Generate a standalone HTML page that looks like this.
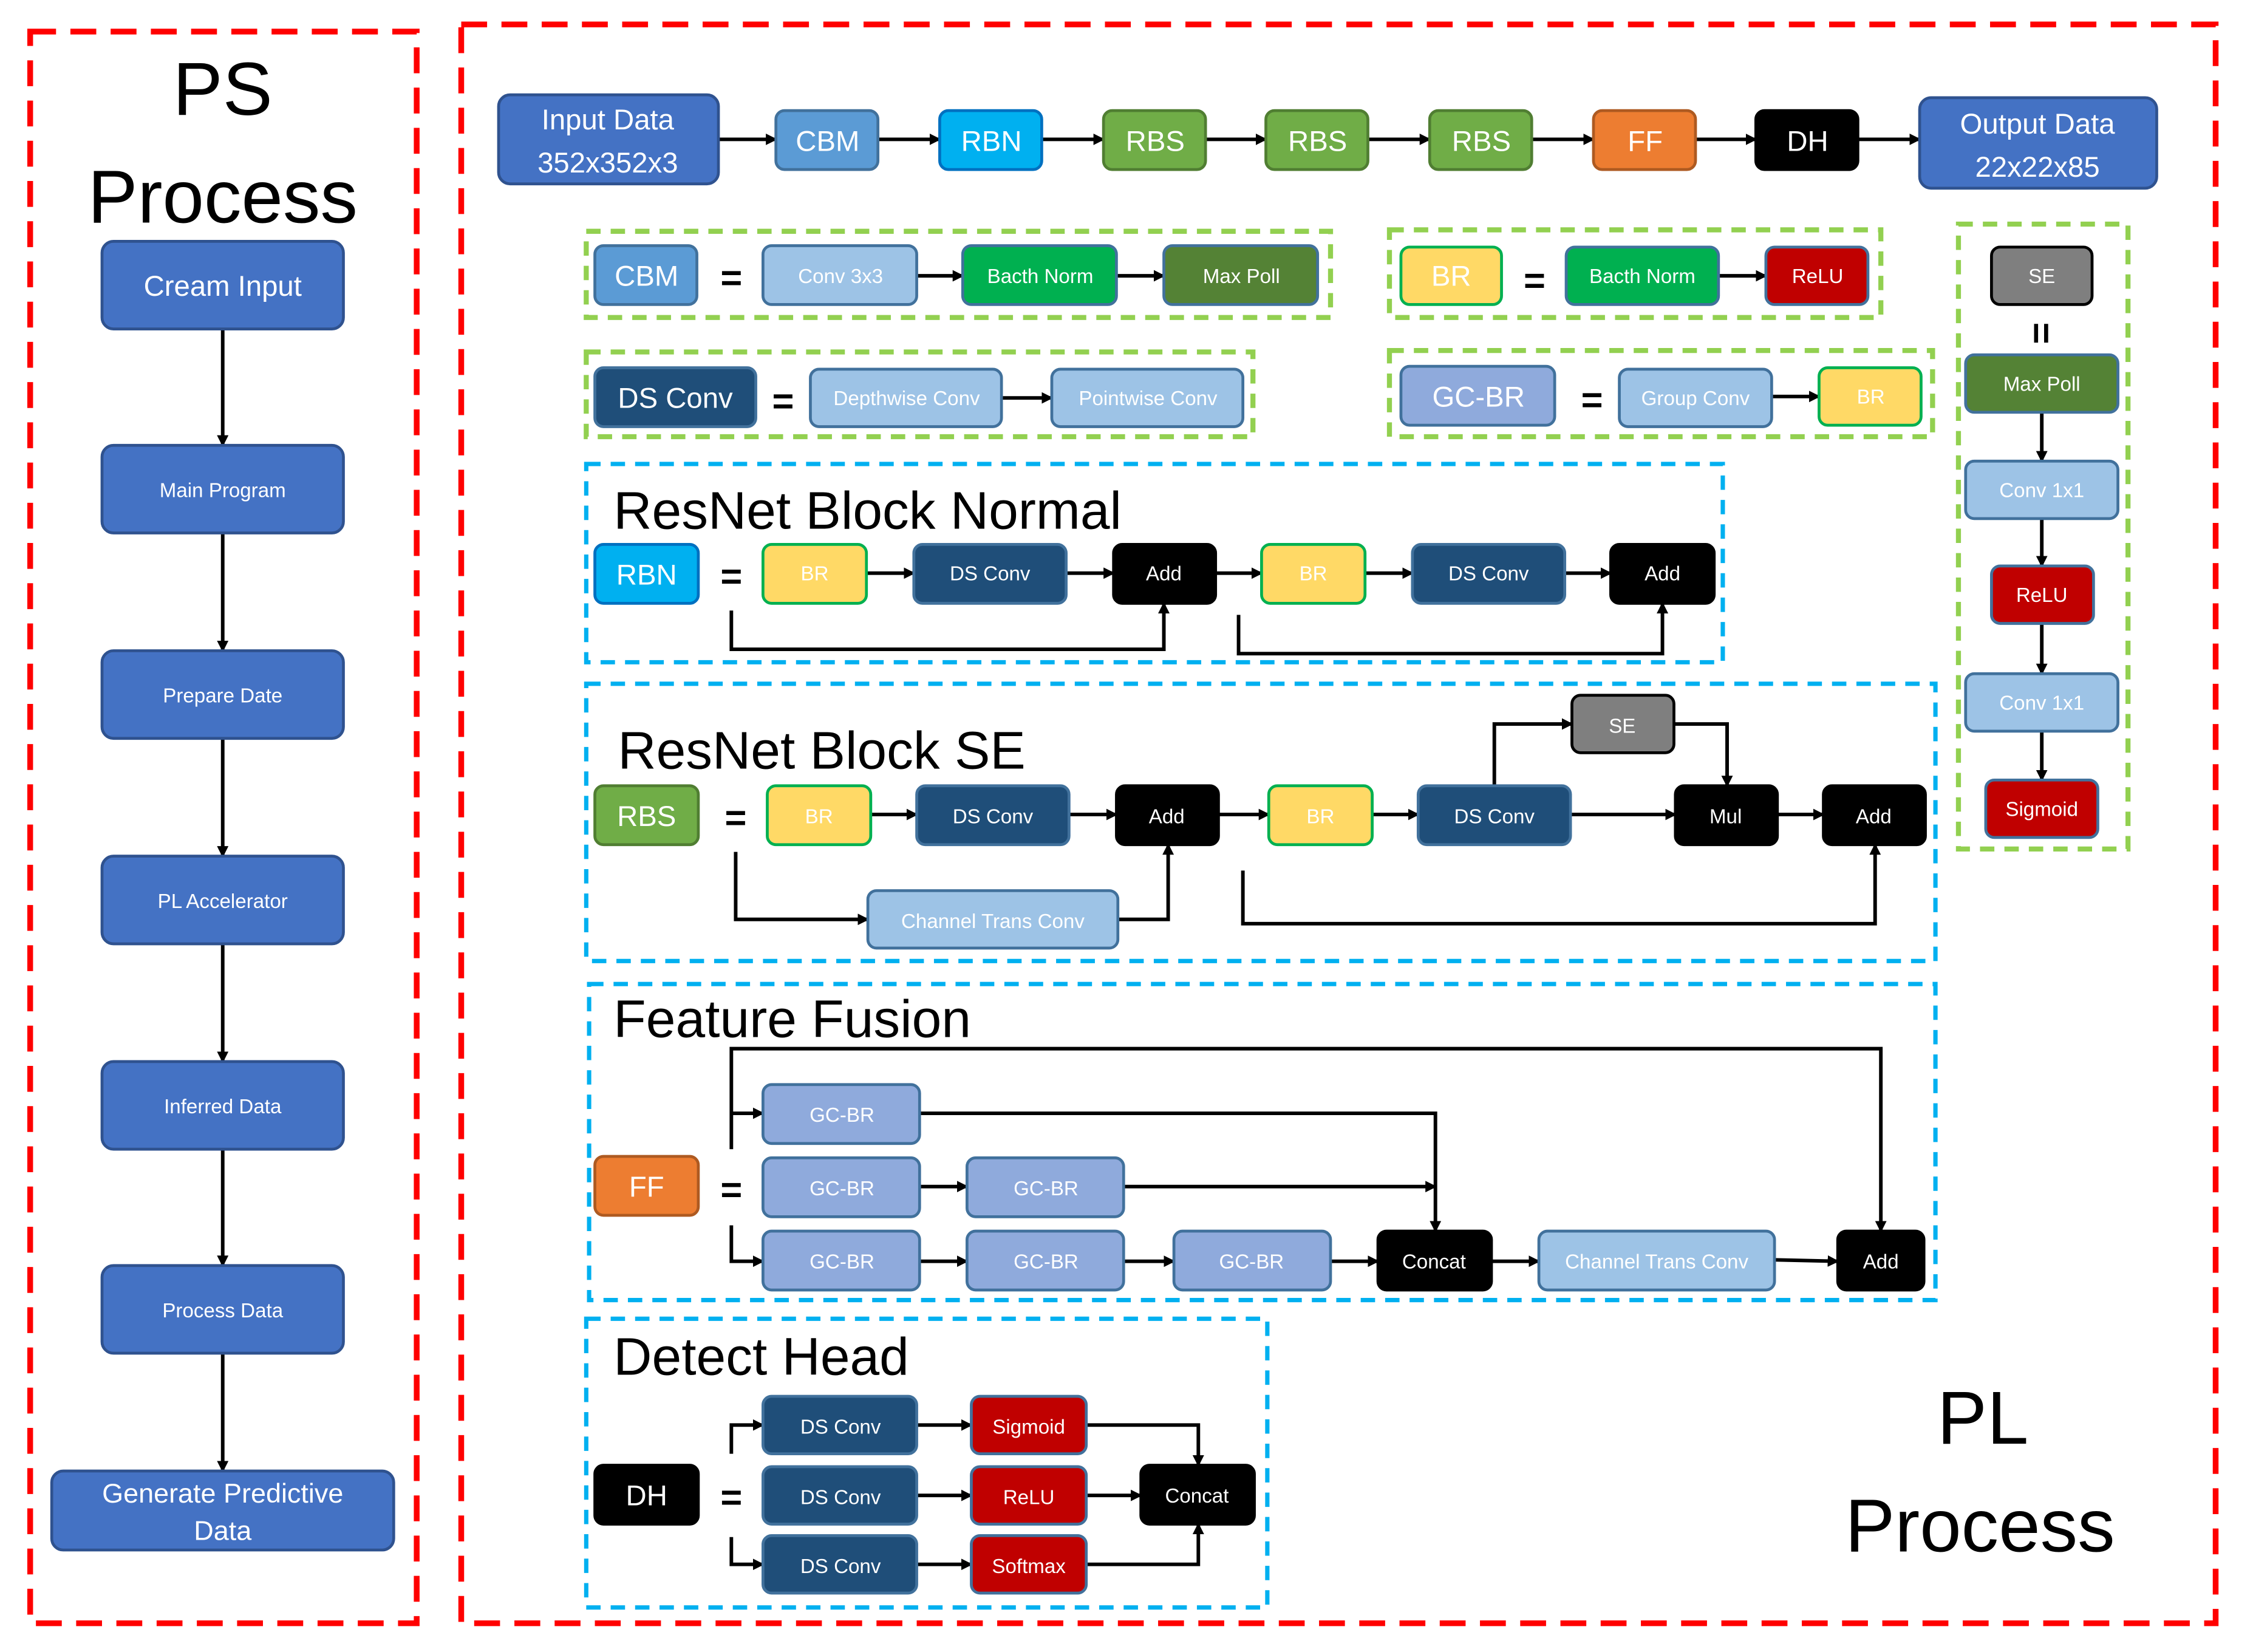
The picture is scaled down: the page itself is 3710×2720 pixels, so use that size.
<!DOCTYPE html>
<html><head><meta charset="utf-8"><style>
html,body{margin:0;padding:0;background:#fff;}
svg{display:block;}
text{font-family:"Liberation Sans",sans-serif;}
</style></head><body>
<svg width="3710" height="2720" viewBox="0 0 1568 1150" preserveAspectRatio="none" xmlns="http://www.w3.org/2000/svg">
<defs>
<marker id="a" markerWidth="8" markerHeight="8" refX="7" refY="4" orient="auto" markerUnits="userSpaceOnUse"><path d="M0,0 L8,4 L0,8 Z" fill="#000"/></marker>
</defs>
<g fill="none" stroke="#f00" stroke-width="4" stroke-dasharray="18,10">
<rect x="21" y="22" width="269" height="1108"/>
<rect x="321" y="17" width="1221" height="1113"/>
</g>
<g fill="none" stroke="#92D050" stroke-width="3.5" stroke-dasharray="10,7">
<rect x="408" y="161" width="518" height="60"/>
<rect x="967" y="160" width="342" height="61"/>
<rect x="408" y="245" width="464" height="59"/>
<rect x="967" y="244" width="378" height="60"/>
<rect x="1363" y="156" width="118" height="435"/>
</g>
<g fill="none" stroke="#00B0F0" stroke-width="3" stroke-dasharray="10,7">
<rect x="408" y="323" width="791" height="138"/>
<rect x="408" y="476" width="939" height="193"/>
<rect x="410" y="685" width="937" height="220"/>
<rect x="408" y="918" width="474" height="201"/>
</g>
<g fill="#000" text-anchor="middle">
<text x="155" y="80" font-size="52">PS</text>
<text x="155" y="155" font-size="52">Process</text>
<text x="1380" y="1005" font-size="52">PL</text>
<text x="1378" y="1080" font-size="52">Process</text>
</g>
<g fill="#000" font-size="37">
<text x="427" y="368">ResNet Block Normal</text>
<text x="430" y="535">ResNet Block SE</text>
<text x="427" y="722">Feature Fusion</text>
<text x="427" y="957">Detect Head</text>
</g>
<g stroke="#000" stroke-width="2.5" fill="none" marker-end="url(#a)">
<line x1="155" y1="229" x2="155" y2="310"/>
<line x1="155" y1="371" x2="155" y2="453"/>
<line x1="155" y1="514" x2="155" y2="596"/>
<line x1="155" y1="657" x2="155" y2="739"/>
<line x1="155" y1="800" x2="155" y2="881"/>
<line x1="155" y1="942" x2="155" y2="1024"/>
<line x1="500" y1="97" x2="540" y2="97"/>
<line x1="611" y1="97" x2="654" y2="97"/>
<line x1="725" y1="97" x2="768" y2="97"/>
<line x1="839" y1="97" x2="881" y2="97"/>
<line x1="952" y1="97" x2="995" y2="97"/>
<line x1="1066" y1="97" x2="1109" y2="97"/>
<line x1="1180" y1="97" x2="1222" y2="97"/>
<line x1="1293" y1="97" x2="1336" y2="97"/>
<line x1="638" y1="192" x2="670" y2="192"/>
<line x1="777" y1="192" x2="810" y2="192"/>
<line x1="1196" y1="192" x2="1229" y2="192"/>
<line x1="697" y1="277" x2="732" y2="277"/>
<line x1="1233" y1="276" x2="1266" y2="276"/>
<line x1="1421" y1="287" x2="1421" y2="321"/>
<line x1="1421" y1="361" x2="1421" y2="394"/>
<line x1="1421" y1="434" x2="1421" y2="469"/>
<line x1="1421" y1="509" x2="1421" y2="543"/>
<line x1="603" y1="399" x2="636" y2="399"/>
<line x1="742" y1="399" x2="775" y2="399"/>
<line x1="846" y1="399" x2="878" y2="399"/>
<line x1="950" y1="399" x2="983" y2="399"/>
<line x1="1089" y1="399" x2="1121" y2="399"/>
<polyline points="509,425 509,452 810,452 810,420"/>
<polyline points="862,428 862,455 1157,455 1157,420"/>
<line x1="606" y1="567" x2="638" y2="567"/>
<line x1="744" y1="567" x2="777" y2="567"/>
<line x1="848" y1="567" x2="883" y2="567"/>
<line x1="955" y1="567" x2="987" y2="567"/>
<line x1="1093" y1="567" x2="1166" y2="567"/>
<line x1="1237" y1="567" x2="1269" y2="567"/>
<polyline points="1040,547 1040,504 1094,504"/>
<polyline points="1165,504 1202,504 1202,547"/>
<polyline points="512,593 512,640 604,640"/>
<polyline points="778,640 813,640 813,588"/>
<polyline points="865,606 865,643 1305,643 1305,588"/>
<polyline points="509,800 509,730 1309,730 1309,857"/>
<polyline points="509,775 531,775"/>
<polyline points="509,853 509,878 531,878"/>
<polyline points="640,775 999,775 999,857"/>
<polyline points="782,826 999,826"/>
<line x1="640" y1="826" x2="673" y2="826"/>
<line x1="640" y1="878" x2="673" y2="878"/>
<line x1="782" y1="878" x2="817" y2="878"/>
<line x1="926" y1="878" x2="959" y2="878"/>
<line x1="1038" y1="878" x2="1071" y2="878"/>
<line x1="1235" y1="877" x2="1279" y2="878"/>
<polyline points="509,1012 509,992 531,992"/>
<polyline points="509,1070 509,1089 531,1089"/>
<line x1="638" y1="992" x2="676" y2="992"/>
<line x1="638" y1="1041" x2="676" y2="1041"/>
<line x1="638" y1="1089" x2="676" y2="1089"/>
<line x1="756" y1="1041" x2="794" y2="1041"/>
<polyline points="756,992 834,992 834,1020"/>
<polyline points="756,1089 834,1089 834,1061"/>
</g>
<g fill="#000" font-size="26" font-weight="bold" text-anchor="middle">
<text x="509" y="202">=</text><text x="1068" y="204">=</text>
<text x="545" y="288">=</text><text x="1108" y="287">=</text>
<text x="509" y="410">=</text><text x="512" y="578">=</text>
<text x="509" y="837">=</text><text x="509" y="1051">=</text>
<text x="1421" y="241" transform="rotate(90 1421 232)">=</text>
</g>
<g stroke-width="2" text-anchor="middle" fill="#fff">
<g font-size="20">
<rect x="71" y="168" width="168" height="61" rx="8" fill="#4472C4" stroke="#2F528F"/><text x="155" y="206">Cream Input</text>
<rect x="36" y="1024" width="238" height="55" rx="8" fill="#4472C4" stroke="#2F528F"/><text x="155" y="1046" font-size="19">Generate Predictive</text><text x="155" y="1072" font-size="19">Data</text>
</g>
<g font-size="14">
<rect x="71" y="310" width="168" height="61" rx="8" fill="#4472C4" stroke="#2F528F"/><text x="155" y="346">Main Program</text>
<rect x="71" y="453" width="168" height="61" rx="8" fill="#4472C4" stroke="#2F528F"/><text x="155" y="489">Prepare Date</text>
<rect x="71" y="596" width="168" height="61" rx="8" fill="#4472C4" stroke="#2F528F"/><text x="155" y="632">PL Accelerator</text>
<rect x="71" y="739" width="168" height="61" rx="8" fill="#4472C4" stroke="#2F528F"/><text x="155" y="775">Inferred Data</text>
<rect x="71" y="881" width="168" height="61" rx="8" fill="#4472C4" stroke="#2F528F"/><text x="155" y="917">Process Data</text>
</g>
<g font-size="20">
<rect x="347" y="66" width="153" height="62" rx="8" fill="#4472C4" stroke="#2F528F"/><text x="423" y="90">Input  Data</text><text x="423" y="120">352x352x3</text>
<rect x="1336" y="68" width="165" height="63" rx="8" fill="#4472C4" stroke="#2F528F"/><text x="1418" y="93">Output  Data</text><text x="1418" y="123">22x22x85</text>
<rect x="540" y="77" width="71" height="41" rx="6" fill="#5B9BD5" stroke="#41719C"/><text x="576" y="105">CBM</text>
<rect x="654" y="77" width="71" height="41" rx="6" fill="#00B0F0" stroke="#0070C0"/><text x="690" y="105">RBN</text>
<rect x="768" y="77" width="71" height="41" rx="6" fill="#70AD47" stroke="#507E32"/><text x="804" y="105">RBS</text>
<rect x="881" y="77" width="71" height="41" rx="6" fill="#70AD47" stroke="#507E32"/><text x="917" y="105">RBS</text>
<rect x="995" y="77" width="71" height="41" rx="6" fill="#70AD47" stroke="#507E32"/><text x="1031" y="105">RBS</text>
<rect x="1109" y="77" width="71" height="41" rx="6" fill="#ED7D31" stroke="#AE5A21"/><text x="1145" y="105">FF</text>
<rect x="1222" y="77" width="71" height="41" rx="6" fill="#000" stroke="#000"/><text x="1258" y="105">DH</text>
<rect x="414" y="171" width="71" height="41" rx="6" fill="#5B9BD5" stroke="#41719C"/><text x="450" y="199">CBM</text>
<rect x="975" y="172" width="70" height="40" rx="6" fill="#FFD966" stroke="#00B050"/><text x="1010" y="199">BR</text>
<rect x="414" y="256" width="112" height="41" rx="6" fill="#1F4E79" stroke="#41719C"/><text x="470" y="284">DS Conv</text>
<rect x="975" y="255" width="107" height="41" rx="6" fill="#8FAADC" stroke="#41719C"/><text x="1029" y="283">GC-BR</text>
<rect x="414" y="379" width="72" height="41" rx="6" fill="#00B0F0" stroke="#0070C0"/><text x="450" y="407">RBN</text>
<rect x="414" y="547" width="72" height="41" rx="6" fill="#70AD47" stroke="#507E32"/><text x="450" y="575">RBS</text>
<rect x="414" y="805" width="72" height="41" rx="6" fill="#ED7D31" stroke="#AE5A21"/><text x="450" y="833">FF</text>
<rect x="414" y="1020" width="72" height="41" rx="6" fill="#000" stroke="#000"/><text x="450" y="1048">DH</text>
</g>
<g font-size="14">
<rect x="531" y="171" width="107" height="41" rx="6" fill="#9DC3E6" stroke="#41719C"/><text x="585" y="197">Conv 3x3</text>
<rect x="670" y="171" width="107" height="41" rx="6" fill="#00B050" stroke="#41719C"/><text x="724" y="197">Bacth Norm</text>
<rect x="810" y="171" width="107" height="41" rx="6" fill="#548235" stroke="#41719C"/><text x="864" y="197">Max Poll</text>
<rect x="1090" y="172" width="106" height="40" rx="6" fill="#00B050" stroke="#41719C"/><text x="1143" y="197">Bacth Norm</text>
<rect x="1229" y="172" width="71" height="40" rx="6" fill="#C00000" stroke="#41719C"/><text x="1265" y="197">ReLU</text>
<rect x="564" y="257" width="133" height="40" rx="6" fill="#9DC3E6" stroke="#41719C"/><text x="631" y="282">Depthwise Conv</text>
<rect x="732" y="257" width="133" height="40" rx="6" fill="#9DC3E6" stroke="#41719C"/><text x="799" y="282">Pointwise Conv</text>
<rect x="1127" y="257" width="106" height="40" rx="6" fill="#9DC3E6" stroke="#41719C"/><text x="1180" y="282">Group Conv</text>
<rect x="1266" y="256" width="71" height="40" rx="6" fill="#FFD966" stroke="#00B050"/><text x="1302" y="281">BR</text>
<rect x="1386" y="172" width="70" height="40" rx="6" fill="#7F7F7F" stroke="#000"/><text x="1421" y="197">SE</text>
<rect x="1368" y="247" width="106" height="40" rx="6" fill="#548235" stroke="#41719C"/><text x="1421" y="272">Max Poll</text>
<rect x="1368" y="321" width="106" height="40" rx="6" fill="#9DC3E6" stroke="#41719C"/><text x="1421" y="346">Conv 1x1</text>
<rect x="1386" y="394" width="71" height="40" rx="6" fill="#C00000" stroke="#41719C"/><text x="1421" y="419">ReLU</text>
<rect x="1368" y="469" width="106" height="40" rx="6" fill="#9DC3E6" stroke="#41719C"/><text x="1421" y="494">Conv 1x1</text>
<rect x="1382" y="543" width="78" height="40" rx="6" fill="#C00000" stroke="#41719C"/><text x="1421" y="568">Sigmoid</text>
<rect x="531" y="379" width="72" height="41" rx="6" fill="#FFD966" stroke="#00B050"/><text x="567" y="404">BR</text>
<rect x="636" y="379" width="106" height="41" rx="6" fill="#1F4E79" stroke="#41719C"/><text x="689" y="404">DS Conv</text>
<rect x="775" y="379" width="71" height="41" rx="6" fill="#000" stroke="#000"/><text x="810" y="404">Add</text>
<rect x="878" y="379" width="72" height="41" rx="6" fill="#FFD966" stroke="#00B050"/><text x="914" y="404">BR</text>
<rect x="983" y="379" width="106" height="41" rx="6" fill="#1F4E79" stroke="#41719C"/><text x="1036" y="404">DS Conv</text>
<rect x="1121" y="379" width="72" height="41" rx="6" fill="#000" stroke="#000"/><text x="1157" y="404">Add</text>
<rect x="534" y="547" width="72" height="41" rx="6" fill="#FFD966" stroke="#00B050"/><text x="570" y="573">BR</text>
<rect x="638" y="547" width="106" height="41" rx="6" fill="#1F4E79" stroke="#41719C"/><text x="691" y="573">DS Conv</text>
<rect x="777" y="547" width="71" height="41" rx="6" fill="#000" stroke="#000"/><text x="812" y="573">Add</text>
<rect x="883" y="547" width="72" height="41" rx="6" fill="#FFD966" stroke="#00B050"/><text x="919" y="573">BR</text>
<rect x="987" y="547" width="106" height="41" rx="6" fill="#1F4E79" stroke="#41719C"/><text x="1040" y="573">DS Conv</text>
<rect x="1166" y="547" width="71" height="41" rx="6" fill="#000" stroke="#000"/><text x="1201" y="573">Mul</text>
<rect x="1269" y="547" width="71" height="41" rx="6" fill="#000" stroke="#000"/><text x="1304" y="573">Add</text>
<rect x="1094" y="484" width="71" height="40" rx="6" fill="#7F7F7F" stroke="#000"/><text x="1129" y="510">SE</text>
<rect x="604" y="620" width="174" height="40" rx="6" fill="#9DC3E6" stroke="#41719C"/><text x="691" y="646">Channel Trans Conv</text>
<rect x="531" y="755" width="109" height="41" rx="6" fill="#8FAADC" stroke="#41719C"/><text x="586" y="781">GC-BR</text>
<rect x="531" y="806" width="109" height="41" rx="6" fill="#8FAADC" stroke="#41719C"/><text x="586" y="832">GC-BR</text>
<rect x="673" y="806" width="109" height="41" rx="6" fill="#8FAADC" stroke="#41719C"/><text x="728" y="832">GC-BR</text>
<rect x="531" y="857" width="109" height="41" rx="6" fill="#8FAADC" stroke="#41719C"/><text x="586" y="883">GC-BR</text>
<rect x="673" y="857" width="109" height="41" rx="6" fill="#8FAADC" stroke="#41719C"/><text x="728" y="883">GC-BR</text>
<rect x="817" y="857" width="109" height="41" rx="6" fill="#8FAADC" stroke="#41719C"/><text x="871" y="883">GC-BR</text>
<rect x="959" y="857" width="79" height="41" rx="6" fill="#000" stroke="#000"/><text x="998" y="883">Concat</text>
<rect x="1071" y="857" width="164" height="41" rx="6" fill="#9DC3E6" stroke="#41719C"/><text x="1153" y="883">Channel Trans Conv</text>
<rect x="1279" y="857" width="60" height="41" rx="6" fill="#000" stroke="#000"/><text x="1309" y="883">Add</text>
<rect x="531" y="972" width="107" height="40" rx="6" fill="#1F4E79" stroke="#41719C"/><text x="585" y="998">DS Conv</text>
<rect x="531" y="1021" width="107" height="40" rx="6" fill="#1F4E79" stroke="#41719C"/><text x="585" y="1047">DS Conv</text>
<rect x="531" y="1069" width="107" height="40" rx="6" fill="#1F4E79" stroke="#41719C"/><text x="585" y="1095">DS Conv</text>
<rect x="676" y="972" width="80" height="40" rx="6" fill="#C00000" stroke="#41719C"/><text x="716" y="998">Sigmoid</text>
<rect x="676" y="1021" width="80" height="40" rx="6" fill="#C00000" stroke="#41719C"/><text x="716" y="1047">ReLU</text>
<rect x="676" y="1069" width="80" height="40" rx="6" fill="#C00000" stroke="#41719C"/><text x="716" y="1095">Softmax</text>
<rect x="794" y="1020" width="79" height="41" rx="6" fill="#000" stroke="#000"/><text x="833" y="1046">Concat</text>
</g>
</g>
</svg>
</body></html>
